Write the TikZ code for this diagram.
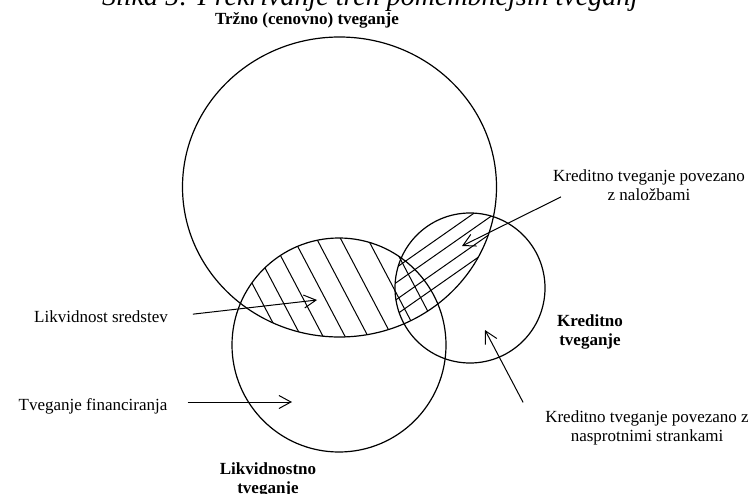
\documentclass[tikz,border=0pt]{standalone}
\usepackage{fontspec}
\setmainfont{Liberation Serif}
\usetikzlibrary{arrows.meta}
\tikzset{
  risk/.style={draw=black,line width=1.2pt},
  hatch/.style={draw=black,line width=1pt},
  lbl/.style={font=\fontsize{17}{19.5}\selectfont,align=center,inner sep=0pt},
  bold/.style={font=\fontsize{17}{19.5}\selectfont\bfseries,align=center,inner sep=0pt},
  arr/.style={line width=1pt,-{Straight Barb[length=12pt,width=13pt]}},
}

\begin{document}
\begin{tikzpicture}[x=1pt,y=-1pt]
  \clip (0,0) rectangle (754,494);
  % caption of the figure, cut at the top
  \node[font=\fontsize{28}{30}\selectfont\itshape,anchor=base] (cap) at (370,6)
    {Slika 5: Prekrivanje treh pomembnejših tveganj};

  % the three risks
  \draw[risk] (339.5,187) ellipse (157 and 150);
  \draw[risk] (339,345) circle (107);
  \draw[risk] (470,288) circle (75);

  % liquidity of assets
  \begin{scope}
    \clip (339,345) circle (107);
    \clip (339.5,187) ellipse (157 and 150);
    \foreach \c in {103,124,146,168,191,215,242,264}
      \draw[hatch] (\c+120/1.9,120) -- (\c+360/1.9,360);
  \end{scope}
  % credit risk of investments
  \begin{scope}
    \clip (470,288) circle (75);
    \clip (339.5,187) ellipse (157 and 150);
    \foreach \d in {545,560,577,592}
      \draw[hatch] (380,\d-266) -- (520,\d-364);
  \end{scope}

  \node[bold] (trzno) at (307,20) {Tržno (cenovno) tveganje};
  \node[lbl] (ls) at (101,317) {Likvidnost sredstev};
  \node[lbl] (tf) at (93,406) {Tveganje financiranja};
  \node[lbl] (knl) at (649,185) {Kreditno tveganje povezano\\z naložbami};
  \node[bold] (kt) at (590,332) {Kreditno\\tveganje};
  \node[lbl] (kns) at (647,428) {Kreditno tveganje povezano z\\nasprotnimi strankami};
  \node[bold] (lt) at (268,480) {Likvidnostno\\tveganje};

  \coordinate (lsTip) at (317,300);
  \coordinate (tfTip) at (292,402);
  \coordinate (knlTip) at (462,246);
  \coordinate (knsTip) at (485,330);

  \draw[arr,shorten <=25pt] (ls.east) -- (lsTip);
  \draw[arr,shorten <=20pt] (tf.east |- tfTip) -- (tfTip);
  \draw[arr] ([shift={(8,-4)}]knl.south west) -- (knlTip);
  \draw[arr] ([shift={(-22,-8)}]kns.north west) -- (knsTip);
\end{tikzpicture}
\end{document}
